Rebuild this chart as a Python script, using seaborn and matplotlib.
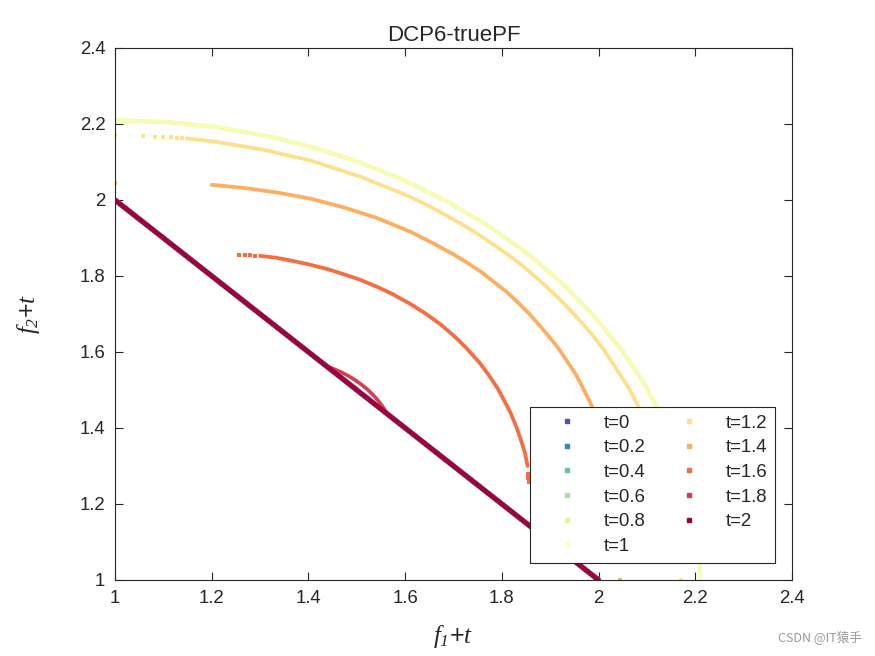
import numpy as np
import pandas as pd
import matplotlib
matplotlib.use("Agg")
import matplotlib.pyplot as plt
from matplotlib.lines import Line2D
import seaborn as sns

# ---------------- data ----------------
t_labels = ["t=0", "t=0.2", "t=0.4", "t=0.6", "t=0.8", "t=1",
            "t=1.2", "t=1.4", "t=1.6", "t=1.8", "t=2"]
t_colors = ["#5e4fa2", "#3288bd", "#66c2a5", "#abdda4", "#e6f598", "#ffffbf",
            "#fee08b", "#fdae61", "#f46d43", "#d53e4f", "#9e0142"]

# linear front (t=0 ... t=0.6 and t=2 lie on it)
line_f1 = [1.0, 2.0]
line_f2 = [2.0, 1.0]

# t=0.8 / t=1 : outer arc
arc10_f1 = [1.000, 1.105, 1.210, 1.313, 1.414, 1.511, 1.605, 1.694, 1.778, 1.856,
            1.927, 1.991, 2.048, 2.097, 2.137, 2.169, 2.192, 2.205, 2.210]
arc10_f2 = [2.210, 2.205, 2.192, 2.169, 2.137, 2.097, 2.048, 1.991, 1.927, 1.856,
            1.778, 1.694, 1.605, 1.511, 1.414, 1.313, 1.210, 1.105, 1.000]

# t=1.2
arc12_f1 = [1.148, 1.204, 1.304, 1.404, 1.504, 1.604, 1.650, 1.704, 1.740, 1.774,
            1.804, 1.835, 1.864, 1.890, 1.919, 1.946, 1.984, 2.012, 2.063, 2.104,
            2.133, 2.154, 2.162]
arc12_f2 = [2.162, 2.154, 2.133, 2.104, 2.063, 2.012, 1.984, 1.946, 1.919, 1.890,
            1.864, 1.835, 1.804, 1.774, 1.740, 1.704, 1.650, 1.604, 1.504, 1.404,
            1.304, 1.204, 1.148]
dots12_f1 = [1.000, 1.057, 1.083, 1.100, 1.115, 1.128, 1.138,
             2.163, 2.164, 2.165, 2.166, 2.167, 2.169, 2.170]
dots12_f2 = [2.170, 2.169, 2.167, 2.166, 2.165, 2.164, 2.163,
             1.138, 1.128, 1.115, 1.100, 1.083, 1.057, 1.000]

# t=1.4
arc14_f1 = [1.200, 1.265, 1.334, 1.403, 1.472, 1.541, 1.610, 1.658, 1.700, 1.727,
            1.757, 1.784, 1.811, 1.836, 1.857, 1.886, 1.917, 1.953, 1.981, 2.004,
            2.020, 2.032, 2.040]
arc14_f2 = [2.040, 2.032, 2.020, 2.004, 1.981, 1.953, 1.917, 1.886, 1.857, 1.836,
            1.811, 1.784, 1.757, 1.727, 1.700, 1.658, 1.610, 1.541, 1.472, 1.403,
            1.334, 1.265, 1.200]
dots14_f1 = [1.000, 2.044]
dots14_f2 = [2.044, 1.000]

# t=1.6
arc16_f1 = [1.300, 1.334, 1.370, 1.403, 1.440, 1.472, 1.505, 1.541, 1.570, 1.610,
            1.640, 1.673, 1.703, 1.727, 1.755, 1.772, 1.791, 1.805, 1.818, 1.830,
            1.839, 1.848, 1.853]
arc16_f2 = [1.853, 1.848, 1.839, 1.830, 1.818, 1.805, 1.791, 1.772, 1.755, 1.727,
            1.703, 1.673, 1.640, 1.610, 1.570, 1.541, 1.505, 1.472, 1.440, 1.403,
            1.370, 1.334, 1.300]
dots16_f1 = [1.257, 1.268, 1.279, 1.290, 1.854, 1.855, 1.856]
dots16_f2 = [1.856, 1.855, 1.854, 1.853, 1.279, 1.268, 1.257]

# t=1.8 : small bulge over the line
arc18_f1 = [1.441, 1.4505, 1.4642, 1.4772, 1.4895, 1.5011, 1.512,
            1.5223, 1.5319, 1.5408, 1.5490, 1.5565, 1.561]
arc18_f2 = [1.561, 1.5565, 1.5490, 1.5408, 1.5319, 1.5223, 1.512,
            1.5011, 1.4895, 1.4772, 1.4642, 1.4505, 1.441]

ticks = [1.0, 1.2, 1.4, 1.6, 1.8, 2.0, 2.2, 2.4]
tick_labels = ["1", "1.2", "1.4", "1.6", "1.8", "2", "2.2", "2.4"]

# ---------------- figure ----------------
sns.set_theme(style="white")
plt.rcParams["font.family"] = ["Liberation Sans", "DejaVu Sans"]
plt.rcParams["mathtext.fontset"] = "custom"
plt.rcParams["mathtext.it"] = "Liberation Serif:italic"
plt.rcParams["mathtext.rm"] = "Liberation Serif:italic"

fig = plt.figure(figsize=(8.75, 6.56), dpi=100)
fig.patch.set_facecolor("white")
ax = fig.add_axes([115 / 875, 76 / 656, 677 / 875, 532 / 656])

col = dict(zip(t_labels, t_colors))

def draw_line(f1, f2, label, lw, alpha=1.0, z=2):
    d = pd.DataFrame({"f1": f1, "f2": f2})
    sns.lineplot(data=d, x="f1", y="f2", sort=False, estimator=None, ax=ax,
                 color=col[label], lw=lw, alpha=alpha, zorder=z,
                 solid_capstyle="round", solid_joinstyle="round")

def draw_dots(f1, f2, label, z=2):
    d = pd.DataFrame({"f1": f1, "f2": f2})
    sns.scatterplot(data=d, x="f1", y="f2", ax=ax, color=col[label], s=9,
                    marker="s", linewidth=0, zorder=z)

for lab in ["t=0", "t=0.2", "t=0.4", "t=0.6"]:
    draw_line(line_f1, line_f2, lab, 3.6, z=2)
draw_line(arc10_f1, arc10_f2, "t=0.8", 3.0, z=2)
draw_line(arc10_f1, arc10_f2, "t=1", 3.0, alpha=0.7, z=2.1)
draw_line(arc12_f1, arc12_f2, "t=1.2", 2.7, z=2.2)
draw_dots(dots12_f1, dots12_f2, "t=1.2", z=2.2)
draw_line(arc14_f1, arc14_f2, "t=1.4", 2.7, z=2.3)
draw_dots(dots14_f1, dots14_f2, "t=1.4", z=2.3)
draw_line(arc16_f1, arc16_f2, "t=1.6", 2.7, z=2.4)
draw_dots(dots16_f1, dots16_f2, "t=1.6", z=2.4)
draw_line(arc18_f1, arc18_f2, "t=1.8", 2.6, z=2.5)
draw_line(line_f1, line_f2, "t=2", 3.6, z=2.6)

ax.set_xlim(1, 2.4)
ax.set_ylim(1, 2.4)
ax.set_xticks(ticks)
ax.set_xticklabels(tick_labels)
ax.set_yticks(ticks)
ax.set_yticklabels(tick_labels)
ax.tick_params(axis="both", which="both", direction="in", length=6, width=0.8,
               top=True, right=True, bottom=True, left=True,
               labelsize=13.4, colors="#262626", pad=7)
for s in ax.spines.values():
    s.set_color("#262626")
    s.set_linewidth(0.8)

ax.set_xlabel(r"$f_1$+$t$", fontsize=18, labelpad=12, color="#262626")
ax.set_ylabel(r"$f_2$+$t$", fontsize=18, labelpad=27, color="#262626")
ax.set_title("DCP6-truePF", fontsize=16, color="#262626", pad=5)

handles = [Line2D([], [], marker="s", linestyle="", markersize=2.6,
                  markerfacecolor=c, markeredgecolor=c) for c in t_colors]
leg = ax.legend(handles, t_labels, ncol=2, loc="lower right",
                bbox_to_anchor=(0.975, 0.032), frameon=True, fancybox=False,
                framealpha=1, edgecolor="#262626", fontsize=13.4,
                handlelength=3.1, handletextpad=0.4, columnspacing=0.8,
                labelspacing=0.41, borderpad=0.43, borderaxespad=0)
leg.get_frame().set_linewidth(0.8)

fig.text(0.985, 0.018, "CSDN @IT猿手", ha="right", va="bottom", fontsize=9,
         color="#9a9a9a", family=["Noto Sans CJK SC", "DejaVu Sans"])

fig.savefig("out.png", dpi=100, facecolor="white")
